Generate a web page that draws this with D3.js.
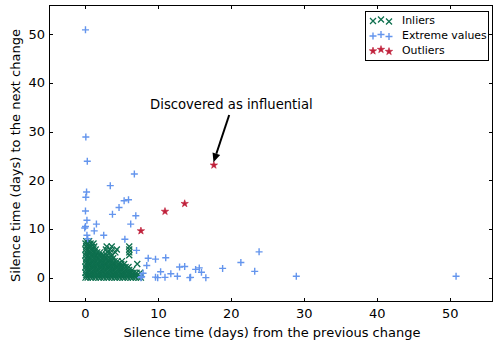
<!DOCTYPE html>
<html>
<head>
<meta charset="utf-8">
<script src="https://cdn.jsdelivr.net/npm/d3@7"></script>
<style>
  body { margin: 0; background: #fff; }
  text { font-family: "DejaVu Sans", sans-serif; fill: #000; }
</style>
</head>
<body>
<svg id="chart" width="494" height="343"></svg>
<script>
const WIDTH = 494;
const HEIGHT = 343;
const MARGIN = { top: 5, right: 1, bottom: 41, left: 49 };

const X_TICKS = [0, 10, 20, 30, 40, 50];
const Y_TICKS = [0, 10, 20, 30, 40, 50];

// inliers: one row per y level, x values typed
const inlierRows = [
    [0.0, [0, 0.3, 0.7, 1.0, 1.4, 1.8, 2.1, 2.5, 2.9, 3.2, 3.6, 4.0, 4.3, 4.7, 5.1, 5.4, 5.8, 6.2, 6.5, 6.9, 7.3, 7.6]],
    [0.5, [0.1, 0.5, 0.8, 1.2, 1.6, 1.9, 2.3, 2.7, 3.0, 3.4, 3.8, 4.1, 4.5, 4.9, 5.2, 5.6, 6.0, 6.3, 6.7, 7.1]],
    [1.0, [0, 0.3, 0.7, 1.0, 1.4, 1.8, 2.1, 2.5, 2.9, 3.2, 3.6, 4.0, 4.3, 4.7, 5.1, 5.4, 5.8, 6.2, 6.6, 7.0, 7.5]],
    [1.6, [0.1, 0.5, 0.8, 1.2, 1.6, 1.9, 2.3, 2.7, 3.0, 3.4, 3.8, 4.1, 4.5, 4.9, 5.2, 5.6, 6.0, 6.4]],
    [2.2, [0, 0.3, 0.7, 1.0, 1.4, 1.8, 2.1, 2.5, 2.9, 3.2, 3.6, 4.0, 4.3, 4.7, 5.1, 5.5, 5.9]],
    [2.8, [0.1, 0.5, 0.8, 1.2, 1.6, 1.9, 2.3, 2.7, 3.0, 3.4, 3.8, 4.1, 4.5, 4.9, 5.3, 7.1]],
    [3.4, [0, 0.3, 0.7, 1.0, 1.4, 1.8, 2.1, 2.5, 2.9, 3.2, 3.6, 4.0, 4.4, 5.0]],
    [4.0, [0.1, 0.5, 0.8, 1.2, 1.6, 1.9, 2.3, 2.7, 3.0, 3.4, 3.8]],
    [4.6, [0, 0.3, 0.7, 1.0, 1.4, 1.8, 2.1, 2.5, 2.9, 3.6, 6.0]],
    [5.2, [0.1, 0.5, 0.8, 1.2, 1.6, 2.0, 3.0, 3.4, 4.1, 6.0]],
    [5.8, [0, 0.3, 0.7, 1.0, 1.4, 2.8, 3.4, 4.3, 6.0]],
    [6.4, [0.1, 0.5, 0.8, 1.2, 2.9, 3.6, 6.0]],
    [7.0, [0, 0.3, 0.7, 1.1]],
    [7.5, [0.1, 0.5]],
];

const extremeValues = [
    [0, 50.9], [0.05, 28.9], [0.25, 23.9], [6.7, 21.3], [3.4, 18.9], [0.15, 17.6],
    [0.05, 16.5], [5.3, 15.8], [5.9, 16.0], [4.6, 14.4], [0, 13.7], [3.7, 13.0],
    [0.2, 11.8], [6.9, 12.7], [1.5, 11.0], [6.2, 11.0], [0, 10.5], [-0.1, 10.2],
    [1.2, 9.6], [2.5, 8.7], [5.4, 7.9], [0.2, 8.7], [0.3, 8.0], [7.0, 5.6],
    [8.6, 4.0], [9.6, 3.8], [11.0, 4.1], [8.4, 2.5], [10.3, 1.2], [7.7, 0.2],
    [9.6, 0.1], [9.9, 0], [7.9, 0.9], [12.9, 2.2], [13.6, 2.3], [15.1, 1.7],
    [15.6, 2.0], [15.9, 1.1], [11.7, 0.8], [10.9, 0.06], [12.6, 0.3], [14.4, 0.06],
    [7.6, 0], [14.3, 0], [16.5, 0], [18.8, 1.9], [21.3, 3.1], [23.8, 5.3],
    [23.2, 1.3], [28.9, 0.3], [50.8, 0.3],
];

const outliers = [[7.6, 9.6], [10.9, 13.6], [13.6, 15.2], [17.6, 23.1]];

const LEGEND_LABELS = ["Inliers", "Extreme values", "Outliers"];
const ANNOTATION = { text: "Discovered as influential", x: 20, y: 34.6, tailX: 19.7, tailY: 33.4, tipX: 17.55, tipY: 23.7 };

const GREEN = "#0e6f4e";
const BLUE = "#6495ed";
const RED = "#c0203a";

const inliers = inlierRows.flatMap(([yv, xs]) => xs.map((xv) => [xv, yv]));

const svg = d3.select("#chart");

const x = d3.scaleLinear()
    .domain([-5, 56])
    .range([MARGIN.left, WIDTH - MARGIN.right + 1]);

const y = d3.scaleLinear()
    .domain([-5, 56])
    .range([HEIGHT - MARGIN.bottom, MARGIN.top]);

const plotW = WIDTH - MARGIN.left - MARGIN.right;
const plotH = HEIGHT - MARGIN.top - MARGIN.bottom;

svg.append("clipPath").attr("id", "plot-clip")
    .append("rect")
    .attr("x", MARGIN.left).attr("y", MARGIN.top)
    .attr("width", plotW).attr("height", plotH);

const plot = svg.append("g").attr("clip-path", "url(#plot-clip)");

function drawX(sel, r) {
    sel.append("path")
        .attr("d", `M${-r},${-r}L${r},${r}M${-r},${r}L${r},${-r}`)
        .attr("stroke", GREEN).attr("stroke-width", 1.3).attr("fill", "none");
}

function drawPlus(sel, r) {
    sel.append("path")
        .attr("d", `M${-r},0L${r},0M0,${-r}L0,${r}`)
        .attr("stroke", BLUE).attr("stroke-width", 1.4).attr("fill", "none");
}

function drawStar(sel, size) {
    sel.append("path")
        .attr("d", d3.symbol(d3.symbolStar, size)())
        .attr("fill", RED).attr("stroke", RED).attr("stroke-width", 0.6);
}

plot.selectAll(".inlier")
    .data(inliers)
    .enter().append("g")
    .attr("class", "inlier")
    .attr("transform", (d) => `translate(${x(d[0])},${y(d[1])})`)
    .call(drawX, 3);

plot.selectAll(".extreme")
    .data(extremeValues)
    .enter().append("g")
    .attr("class", "extreme")
    .attr("transform", (d) => `translate(${x(d[0])},${y(d[1])})`)
    .call(drawPlus, 3.5);

plot.selectAll(".outlier")
    .data(outliers)
    .enter().append("g")
    .attr("class", "outlier")
    .attr("transform", (d) => `translate(${x(d[0])},${y(d[1])})`)
    .call(drawStar, 17);

// spines + inward ticks on all four sides
const pLeft = MARGIN.left, pRight = WIDTH - MARGIN.right, pTop = MARGIN.top, pBottom = HEIGHT - MARGIN.bottom;
const frame = svg.append("g").attr("stroke", "#000").attr("stroke-width", 1).attr("shape-rendering", "crispEdges");
frame.append("rect")
    .attr("x", pLeft + 0.5).attr("y", pTop + 0.5)
    .attr("width", plotW - 1).attr("height", plotH - 1)
    .attr("fill", "none");

const TICK = 4;
X_TICKS.forEach((t) => {
    const px = Math.round(x(t)) + 0.5;
    frame.append("line").attr("x1", px).attr("x2", px).attr("y1", pBottom).attr("y2", pBottom - TICK);
    frame.append("line").attr("x1", px).attr("x2", px).attr("y1", pTop).attr("y2", pTop + TICK);
});
Y_TICKS.forEach((t) => {
    const py = Math.round(y(t)) + 0.5;
    frame.append("line").attr("y1", py).attr("y2", py).attr("x1", pLeft).attr("x2", pLeft + TICK);
    frame.append("line").attr("y1", py).attr("y2", py).attr("x1", pRight).attr("x2", pRight - TICK);
});

svg.selectAll(".x-tick-label")
    .data(X_TICKS)
    .enter().append("text")
    .attr("class", "x-tick-label")
    .attr("x", (d) => x(d))
    .attr("y", pBottom + 16)
    .attr("text-anchor", "middle")
    .attr("font-size", 13)
    .text((d) => d);

svg.selectAll(".y-tick-label")
    .data(Y_TICKS)
    .enter().append("text")
    .attr("class", "y-tick-label")
    .attr("x", pLeft - 4)
    .attr("y", (d) => y(d) + 4.5)
    .attr("text-anchor", "end")
    .attr("font-size", 13)
    .text((d) => d);

svg.append("text")
    .attr("x", (pLeft + pRight) / 2 + 1)
    .attr("y", pBottom + 35)
    .attr("text-anchor", "middle")
    .attr("font-size", 13)
    .text("Silence time (days) from the previous change");

svg.append("text")
    .attr("transform", `translate(20,${(pTop + pBottom) / 2 + 2}) rotate(-90)`)
    .attr("text-anchor", "middle")
    .attr("font-size", 13)
    .text("Silence time (days) to the next change");

// annotation with arrow
svg.append("text")
    .attr("x", x(ANNOTATION.x))
    .attr("y", y(ANNOTATION.y))
    .attr("text-anchor", "middle")
    .attr("font-size", 13.2)
    .text(ANNOTATION.text);

const ax0 = x(ANNOTATION.tailX), ay0 = y(ANNOTATION.tailY);
const ax1 = x(ANNOTATION.tipX), ay1 = y(ANNOTATION.tipY);
const ang = Math.atan2(ay1 - ay0, ax1 - ax0);
const headLen = 9, headHalf = 4;
const bx = ax1 - headLen * Math.cos(ang), by = ay1 - headLen * Math.sin(ang);
svg.append("line")
    .attr("x1", ax0).attr("y1", ay0).attr("x2", bx).attr("y2", by)
    .attr("stroke", "#000").attr("stroke-width", 2);
svg.append("path")
    .attr("d", `M${ax1},${ay1}L${bx - headHalf * Math.sin(ang)},${by + headHalf * Math.cos(ang)}L${bx + headHalf * Math.sin(ang)},${by - headHalf * Math.cos(ang)}Z`)
    .attr("fill", "#000");

// legend
const legend = svg.append("g").attr("transform", `translate(${pRight - 128},${pTop + 6})`);
legend.append("rect")
    .attr("x", 0.5).attr("y", 0.5).attr("width", 123).attr("height", 49)
    .attr("fill", "#fff").attr("stroke", "#000").attr("stroke-width", 1)
    .attr("shape-rendering", "crispEdges");

const LEGEND_MARK_X = [8, 16, 24];
const LEGEND_MARK_DY = [1, -0.5, 1.5];
const drawers = [(s) => drawX(s, 3), (s) => drawPlus(s, 3.5), (s) => drawStar(s, 17)];
LEGEND_LABELS.forEach((label, i) => {
    const rowY = 9 + i * 15;
    LEGEND_MARK_X.forEach((mx, j) => {
        legend.append("g")
            .attr("transform", `translate(${mx},${rowY + LEGEND_MARK_DY[j]})`)
            .call(drawers[i]);
    });
    legend.append("text")
        .attr("x", 37)
        .attr("y", rowY + 4.1)
        .attr("font-size", 10.9)
        .text(label);
});
</script>
